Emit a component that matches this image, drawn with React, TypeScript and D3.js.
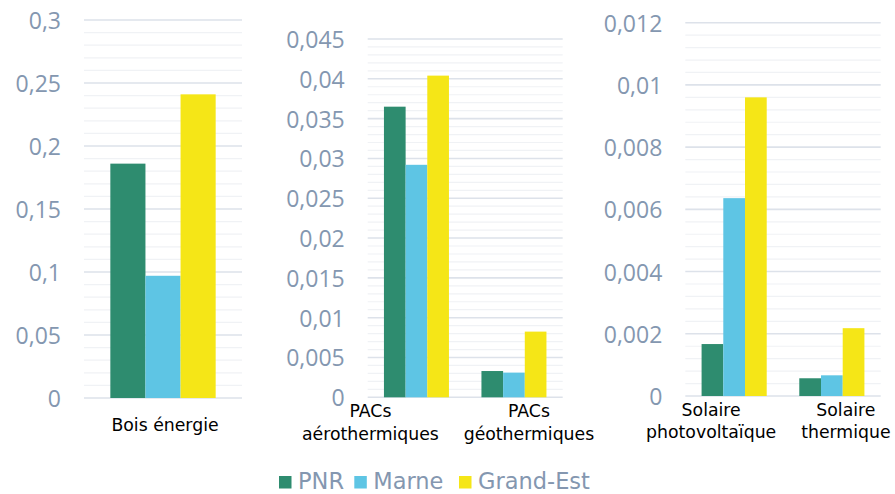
import React from "react";
import * as d3 from "d3";

// ---------- data ----------
const seriesNames = ["PNR", "Marne", "Grand-Est"];

const boisCategories = [["Bois énergie"]];
const boisPNR = [0.186];
const boisMarne = [0.097];
const boisGrandEst = [0.241];
const boisTicks = [0, 0.05, 0.1, 0.15, 0.2, 0.25, 0.3];

const pacCategories = [["PACs", "aérothermiques"], ["PACs", "géothermiques"]];
const pacPNR = [0.0365, 0.0033];
const pacMarne = [0.0292, 0.0031];
const pacGrandEst = [0.0404, 0.00825];
const pacTicks = [0, 0.005, 0.01, 0.015, 0.02, 0.025, 0.03, 0.035, 0.04, 0.045];

const solCategories = [["Solaire", "photovoltaïque"], ["Solaire", "thermique"]];
const solPNR = [0.00167, 0.00057];
const solMarne = [0.00636, 0.000665];
const solGrandEst = [0.0096, 0.00218];
const solTicks = [0, 0.002, 0.004, 0.006, 0.008, 0.01, 0.012];

// ---------- styles / layout ----------
const COLORS = ["#2e8c6f", "#5ec5e4", "#f5e617"];
const TICK_COLOR = "#8497b0";
const FONT = "'Open Sans', sans-serif";
const LABEL_FONT = "'DejaVu Sans', sans-serif";
const LEGEND_FONT = "'DejaVu Sans', sans-serif";
const MAJOR_GRID = "#dde2ea";
const MINOR_GRID = "#f0f2f5";

interface PanelDef {
  cats: string[][];
  values: number[][];
  ticks: number[];
  x0: number;
  x1: number;
  yTop: number;
  yBottom: number;
  labelShift: number[];
  labelY: number[];
}

const panels: PanelDef[] = [
  {
    cats: boisCategories,
    values: [boisPNR, boisMarne, boisGrandEst],
    ticks: boisTicks,
    x0: 84, x1: 242, yTop: 20, yBottom: 398,
    labelShift: [2],
    labelY: [425],
  },
  {
    cats: pacCategories,
    values: [pacPNR, pacMarne, pacGrandEst],
    ticks: pacTicks,
    x0: 367.7, x1: 562.7, yTop: 39, yBottom: 397.3,
    labelShift: [-46, 15],
    labelY: [411, 434],
  },
  {
    cats: solCategories,
    values: [solPNR, solMarne, solGrandEst],
    ticks: solTicks,
    x0: 685.3, x1: 880.7, yTop: 22.7, yBottom: 396,
    labelShift: [-23, 14],
    labelY: [410, 432],
  },
];

const fmt = (v: number) => String(+v.toFixed(6)).replace(".", ",");

function Panel({ p }: { p: PanelDef }) {
  const max = p.ticks[p.ticks.length - 1];
  const y = d3.scaleLinear().domain([0, max]).range([p.yBottom, p.yTop]);
  const x = d3
    .scaleBand<number>()
    .domain(p.cats.map((_, i) => i))
    .range([p.x0, p.x1])
    .paddingInner(0)
    .paddingOuter(0);
  const xs = d3
    .scaleBand<number>()
    .domain(seriesNames.map((_, i) => i))
    .range([0, x.bandwidth()])
    .paddingInner(0)
    .paddingOuter(0.75);
  const step = p.ticks[1] - p.ticks[0];
  const minor: number[] = [];
  for (let k = 0; k < p.ticks.length - 1; k++) {
    for (let m = 1; m < 5; m++) minor.push(p.ticks[k] + (step * m) / 5);
  }
  return (
    <g>
      {minor.map((v, i) => (
        <line key={"m" + i} x1={p.x0} x2={p.x1} y1={y(v)} y2={y(v)} stroke={MINOR_GRID} strokeWidth={1.2} />
      ))}
      {p.ticks.map((v, i) => (
        <line key={"g" + i} x1={p.x0} x2={p.x1} y1={y(v)} y2={y(v)} stroke={MAJOR_GRID} strokeWidth={1.6} />
      ))}
      {p.ticks.map((v, i) => (
        <text
          key={"t" + i}
          x={p.x0 - 23}
          y={y(v)}
          textAnchor="end"
          dominantBaseline="central"
          fill={TICK_COLOR}
          fontSize={23}
          fontFamily={FONT}
        >
          {fmt(v)}
        </text>
      ))}
      {p.values.map((vals, s) =>
        vals.map((v, c) => (
          <rect
            key={"b" + s + "-" + c}
            x={(x(c) as number) + (xs(s) as number)}
            width={xs.bandwidth()}
            y={y(v)}
            height={y(0) - y(v)}
            fill={COLORS[s]}
          />
        ))
      )}
      {p.cats.map((lines, c) => {
        const cx = (x(c) as number) + x.bandwidth() / 2 + p.labelShift[c];
        return (
          <g key={"c" + c}>
            {lines.map((ln, li) => (
              <text
                key={li}
                x={cx}
                y={p.labelY[li]}
                textAnchor="middle"
                dominantBaseline="central"
                fill="#000"
                fontSize={17.3}
                fontFamily={LABEL_FONT}
              >
                {ln}
              </text>
            ))}
          </g>
        );
      })}
    </g>
  );
}

export default function App() {
  const legendX = [279, 354.3, 459];
  return (
    <svg width={895} height={494} style={{ position: "absolute", left: 0, top: 0, background: "#fff" }}>
      {panels.map((p, i) => (
        <Panel key={i} p={p} />
      ))}
      {seriesNames.map((name, i) => (
        <g key={name}>
          <rect x={legendX[i]} y={476} width={12.5} height={12.5} fill={COLORS[i]} />
          <text
            x={legendX[i] + 19}
            y={480.5}
            dominantBaseline="central"
            fill={TICK_COLOR}
            fontSize={22.5}
            fontFamily={LEGEND_FONT}
          >
            {name}
          </text>
        </g>
      ))}
    </svg>
  );
}
